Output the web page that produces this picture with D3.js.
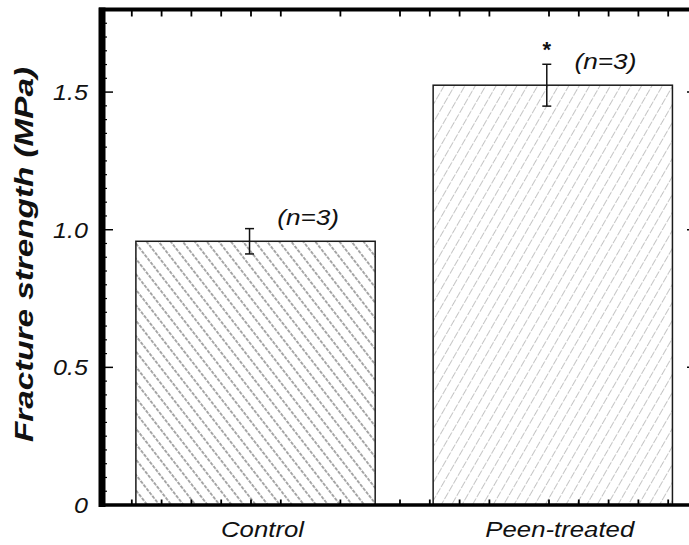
<!DOCTYPE html>
<html>
<head>
<meta charset="utf-8">
<script src="https://cdn.jsdelivr.net/npm/d3@7"></script>
<style>
  html, body { margin: 0; padding: 0; background: #fff; }
  svg { display: block; }
  text { font-family: "Liberation Sans", Arial, sans-serif; fill: #111; }
</style>
</head>
<body>
<svg id="chart" width="689" height="545"></svg>
<script>
// Fracture strength per group (MPa), mean and error, sample size
const categories = ["Control", "Peen-treated"];
const strength = [0.958, 1.525];
const strengthErr = [0.046, 0.076];
const sampleLabels = ["(n=3)", "(n=3)"];
const significance = ["", "*"];
const yTicks = [0, 0.5, 1.0, 1.5];
const yTickLabels = ["0", "0.5", "1.0", "1.5"];
const yDomain = [0, 1.8];
// minor tick slots on the frame's top and bottom edges (20 slots across)
const xMinorSlots = [1, 2, 3, 4, 5, 6, 8, 10, 11, 12, 13, 15, 16, 17, 18, 19];

const svg = d3.select("#chart");
const frame = { left: 102, right: 698, top: 9.5, bottom: 505 };

const y = d3.scaleLinear().domain(yDomain).range([frame.bottom, frame.top]);
const x = d3.scaleBand().domain(categories)
  .range([frame.left, frame.right])
  .paddingInner(0.195).paddingOuter(0.1).align(0.57);
const xSlot = d3.scaleLinear().domain([0, 20]).range([frame.left, frame.right]);

// horizontal widening of text glyphs
function widen(sel, k) {
  sel.each(function () {
    const n = this.getComputedTextLength();
    this.setAttribute("textLength", n * k);
    this.setAttribute("lengthAdjust", "spacingAndGlyphs");
  });
}

// hatch patterns
const defs = svg.append("defs");
defs.append("pattern")
  .attr("id", "hatchControl").attr("patternUnits", "userSpaceOnUse")
  .attr("width", 9.5).attr("height", 9.5)
  .attr("patternTransform", "rotate(52)")
  .append("line")
  .attr("x1", 0).attr("y1", 4.75).attr("x2", 9.5).attr("y2", 4.75)
  .attr("stroke", "#858585").attr("stroke-width", 1.3)
  .attr("stroke-dasharray", "3.5,1.25");
defs.append("pattern")
  .attr("id", "hatchPeen").attr("patternUnits", "userSpaceOnUse")
  .attr("width", 9).attr("height", 9)
  .attr("patternTransform", "rotate(-60)")
  .append("line")
  .attr("x1", 0).attr("y1", 4.5).attr("x2", 9).attr("y2", 4.5)
  .attr("stroke", "#bdbdbd").attr("stroke-width", 0.9)
  .attr("stroke-dasharray", "4.5,1.5");
const fills = ["url(#hatchControl)", "url(#hatchPeen)"];

// bars
svg.append("g").selectAll("rect")
  .data(categories)
  .join("rect")
  .attr("x", d => x(d))
  .attr("y", (d, i) => y(strength[i]))
  .attr("width", x.bandwidth())
  .attr("height", (d, i) => y(0) - y(strength[i]))
  .attr("fill", (d, i) => fills[i])
  .attr("stroke", "#1a1a1a")
  .attr("stroke-width", 1.5);

// error bars
const eb = svg.append("g").attr("stroke", "#111").attr("stroke-width", 1.5);
categories.forEach((c, i) => {
  const cx = x(c) + x.bandwidth() / 2 - 6;
  const hi = y(strength[i] + strengthErr[i]);
  const lo = y(strength[i] - strengthErr[i]);
  eb.append("line").attr("x1", cx).attr("x2", cx).attr("y1", hi).attr("y2", lo);
  eb.append("line").attr("x1", cx - 4.5).attr("x2", cx + 4.5).attr("y1", hi).attr("y2", hi);
  eb.append("line").attr("x1", cx - 4.5).attr("x2", cx + 4.5).attr("y1", lo).attr("y2", lo);
  if (significance[i]) {
    svg.append("text")
      .attr("x", cx).attr("y", hi - 7)
      .attr("text-anchor", "middle")
      .attr("font-size", 22)
      .attr("font-weight", "bold")
      .text(significance[i]);
  }
});

// sample-size labels
const nLab = svg.append("g").selectAll("text")
  .data(categories)
  .join("text")
  .attr("x", d => x(d) + x.bandwidth() * 0.72)
  .attr("y", (d, i) => y(strength[i]) - 16)
  .attr("text-anchor", "middle")
  .attr("font-size", 22)
  .attr("font-style", "italic")
  .text((d, i) => sampleLabels[i]);
widen(nLab, 1.19);

// frame
const fr = svg.append("g").attr("stroke", "#000");
fr.append("line").attr("x1", frame.left - 3).attr("x2", frame.right)
  .attr("y1", frame.top).attr("y2", frame.top).attr("stroke-width", 4);
fr.append("line").attr("x1", frame.left - 3).attr("x2", frame.right)
  .attr("y1", frame.bottom).attr("y2", frame.bottom).attr("stroke-width", 3.5);
fr.append("line").attr("x1", frame.left).attr("x2", frame.left)
  .attr("y1", frame.top - 2).attr("y2", frame.bottom + 2).attr("stroke-width", 7);
fr.append("line").attr("x1", frame.right).attr("x2", frame.right)
  .attr("y1", frame.top).attr("y2", frame.bottom).attr("stroke-width", 3);

// y ticks (left and right, pointing inward)
const minor = d3.range(0, 1.8001, 0.05);
const tk = svg.append("g").attr("stroke", "#000");
minor.forEach(v => {
  const major = yTicks.some(t => Math.abs(t - v) < 1e-6);
  const len = major ? 11 : 5;
  tk.append("line").attr("x1", frame.left).attr("x2", frame.left + len)
    .attr("y1", y(v)).attr("y2", y(v)).attr("stroke-width", major ? 1.5 : 1.2);
  tk.append("line").attr("x1", frame.right).attr("x2", frame.right - len)
    .attr("y1", y(v)).attr("y2", y(v)).attr("stroke-width", major ? 1.5 : 1.2);
});
// minor ticks on top and bottom edges
xMinorSlots.forEach(s => {
  tk.append("line").attr("x1", xSlot(s)).attr("x2", xSlot(s))
    .attr("y1", frame.top).attr("y2", frame.top + 7).attr("stroke-width", 1.8);
  tk.append("line").attr("x1", xSlot(s)).attr("x2", xSlot(s))
    .attr("y1", frame.bottom).attr("y2", frame.bottom - 5.5).attr("stroke-width", 1.8);
});

// y tick labels
const yl = svg.append("g").selectAll("text")
  .data(yTicks)
  .join("text")
  .attr("x", 88)
  .attr("y", d => y(d))
  .attr("dy", "0.36em")
  .attr("text-anchor", "end")
  .attr("font-size", 22)
  .attr("font-style", "italic")
  .attr("fill", "#222")
  .text((d, i) => yTickLabels[i]);
widen(yl, 1.14);

// category labels
const xl = svg.append("g").selectAll("text")
  .data(categories)
  .join("text")
  .attr("x", d => x(d) + x.bandwidth() / 2 + 7)
  .attr("y", 537)
  .attr("text-anchor", "middle")
  .attr("font-size", 22)
  .attr("font-style", "italic")
  .text(d => d);
widen(xl, 1.17);

// y axis title
const yt = svg.append("text")
  .attr("transform", "translate(33," + (254.5) + ") rotate(-90)")
  .attr("text-anchor", "middle")
  .attr("font-size", 25)
  .attr("font-weight", "bold")
  .attr("font-style", "italic")
  .text("Fracture strength (MPa)");
widen(yt, 1.33);
</script>
</body>
</html>
